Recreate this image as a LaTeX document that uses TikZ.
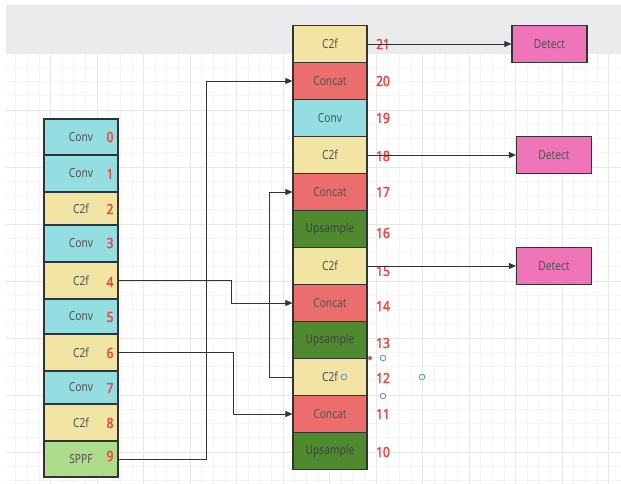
\documentclass[tikz,border=0pt]{standalone}
\usepackage{fontspec}
\newfontfamily\lblfont[FakeStretch=0.82]{Noto Sans}
\newfontfamily\numfont[FakeStretch=0.85,FakeBold=2.2]{Noto Sans}
\usetikzlibrary{arrows.meta}
\definecolor{convc}{HTML}{94DDE0}
\definecolor{ctwof}{HTML}{F2E4A2}
\definecolor{concatc}{HTML}{EB6E6C}
\definecolor{upc}{HTML}{4F8A2F}
\definecolor{sppfc}{HTML}{ACDC8C}
\definecolor{detc}{HTML}{EE75B8}
\definecolor{numc}{HTML}{EE4646}
\definecolor{edge}{HTML}{333333}
\definecolor{band}{HTML}{EAEBED}
\definecolor{gminor}{HTML}{F5F5F5}
\definecolor{gmajor}{HTML}{E8E8E8}
\definecolor{handle}{HTML}{4A90E2}
\begin{document}
\begin{tikzpicture}[x=1pt,y=-1pt,
  blk/.style={draw=edge,line width=1.2pt,inner sep=0pt,minimum width=74pt,
    font=\lblfont\fontsize{12.5}{13}\selectfont,text=black!68},
  conv/.style={blk,fill=convc},
  ctwo/.style={blk,fill=ctwof},
  cat/.style={blk,fill=concatc},
  ups/.style={blk,fill=upc,text=black!75},
  sppf/.style={blk,fill=sppfc},
  det/.style={blk,fill=detc,minimum width=75pt,minimum height=37pt},
  num/.style={inner sep=0pt,text=numc,font=\numfont\fontsize{14}{14}\selectfont},
  arr/.style={draw=edge,line width=0.9pt,-{Triangle[length=7pt,width=6pt]}},
  hdl/.style={draw=handle,line width=0.8pt}]
\useasboundingbox (0,0) rectangle (621,484);
\fill[white] (0,0) rectangle (621,484);
% grid
\foreach \i in {0,...,52}{\draw[gminor,line width=0.6pt] ({4+11.625*\i},53) -- ({4+11.625*\i},484);}
\foreach \i in {0,...,30}{\draw[gminor,line width=0.6pt] (6,{53+14.25*\i}) -- (621,{53+14.25*\i});}
\foreach \i in {0,...,13}{\draw[gmajor,line width=0.8pt] ({4+46.5*\i},53) -- ({4+46.5*\i},484);}
\foreach \i in {0,...,7}{\draw[gmajor,line width=0.8pt] (6,{53+57*\i}) -- (621,{53+57*\i});}
\fill[white] (0,0) rectangle (6,484);
\fill[band] (6,5) rectangle (621,53);
% left column
\node[conv,minimum height=36pt] (L0) at (81,137) {Conv};
\node[conv,minimum height=37pt] (L1) at (81,173.5) {Conv};
\node[ctwo,minimum height=33pt] (L2) at (81,208.5) {C2f};
\node[conv,minimum height=37pt] (L3) at (81,243.5) {Conv};
\node[ctwo,minimum height=37pt] (L4) at (81,280.5) {C2f};
\node[conv,minimum height=35pt] (L5) at (81,316.5) {Conv};
\node[ctwo,minimum height=37pt] (L6) at (81,352.5) {C2f};
\node[conv,minimum height=33pt] (L7) at (81,387.5) {Conv};
\node[ctwo,minimum height=37pt] (L8) at (81,422.5) {C2f};
\node[sppf,minimum height=36pt] (L9) at (81,459) {SPPF};
\node[num] (n0) at (110,137) {0};
\node[num] (n1) at (110,174) {1};
\node[num] (n2) at (110,209) {2};
\node[num] (n3) at (110,243) {3};
\node[num] (n4) at (110,282) {4};
\node[num] (n5) at (110,317) {5};
\node[num] (n6) at (110,353) {6};
\node[num] (n7) at (110,388) {7};
\node[num] (n8) at (110,423) {8};
\node[num] (n9) at (110,456) {9};
% right column
\node[ctwo,minimum height=37pt] (R21) at (330,44) {C2f};
\node[cat,minimum height=37pt] (R20) at (330,81) {Concat};
\node[conv,minimum height=37pt] (R19) at (330,118) {Conv};
\node[ctwo,minimum height=37pt] (R18) at (330,155) {C2f};
\node[cat,minimum height=37pt] (R17) at (330,192) {Concat};
\node[ups,minimum height=37pt] (R16) at (330,229) {Upsample};
\node[ctwo,minimum height=37pt] (R15) at (330,266) {C2f};
\node[cat,minimum height=37pt] (R14) at (330,303) {Concat};
\node[ups,minimum height=37pt] (R13) at (330,340) {Upsample};
\node[ctwo,minimum height=37pt] (R12) at (330,377) {C2f};
\node[cat,minimum height=37pt] (R11) at (330,414) {Concat};
\node[ups,minimum height=37pt] (R10) at (330,451) {Upsample};
\node[num] (n21) at (383,44) {21};
\node[num] (n20) at (383,81) {20};
\node[num] (n19) at (383,118) {19};
\node[num] (n18) at (383,156) {18};
\node[num] (n17) at (383,192) {17};
\node[num] (n16) at (383,233) {16};
\node[num] (n15) at (383,271) {15};
\node[num] (n14) at (383,306) {14};
\node[num] (n13) at (383,343) {13};
\node[num] (n12) at (383,378) {12};
\node[num] (n11) at (383,414) {11};
\node[num] (n10) at (383,452) {10};
% detect heads
\node[det] (D1) at (549.5,44) {Detect};
\node[det] (D2) at (554,155) {Detect};
\node[det] (D3) at (554,266) {Detect};
% connectors
\draw[arr] (R21.east) -- (D1.west);
\draw[arr] (R18.east) -- (D2.west);
\draw[arr] (R15.east) -- (D3.west);
\draw[arr] (L9.east) -- ++(88,0) |- (R20.west);
\draw[arr] (L4.east) -- ++(113,0) |- (R14.west);
\draw[arr] (L6.east) -- ++(115,0) |- (R11.west);
\draw[arr] (R12.west) -- ++(-23,0) |- (R17.west);
% selection handles
\fill[numc] (370,358) circle (2pt);
\draw[hdl] (383,358) circle (2.8pt);
\draw[hdl] (344,377) circle (2.8pt);
\draw[hdl] (422,377) circle (2.8pt);
\draw[hdl] (383,396) circle (2.8pt);
\end{tikzpicture}
\end{document}
